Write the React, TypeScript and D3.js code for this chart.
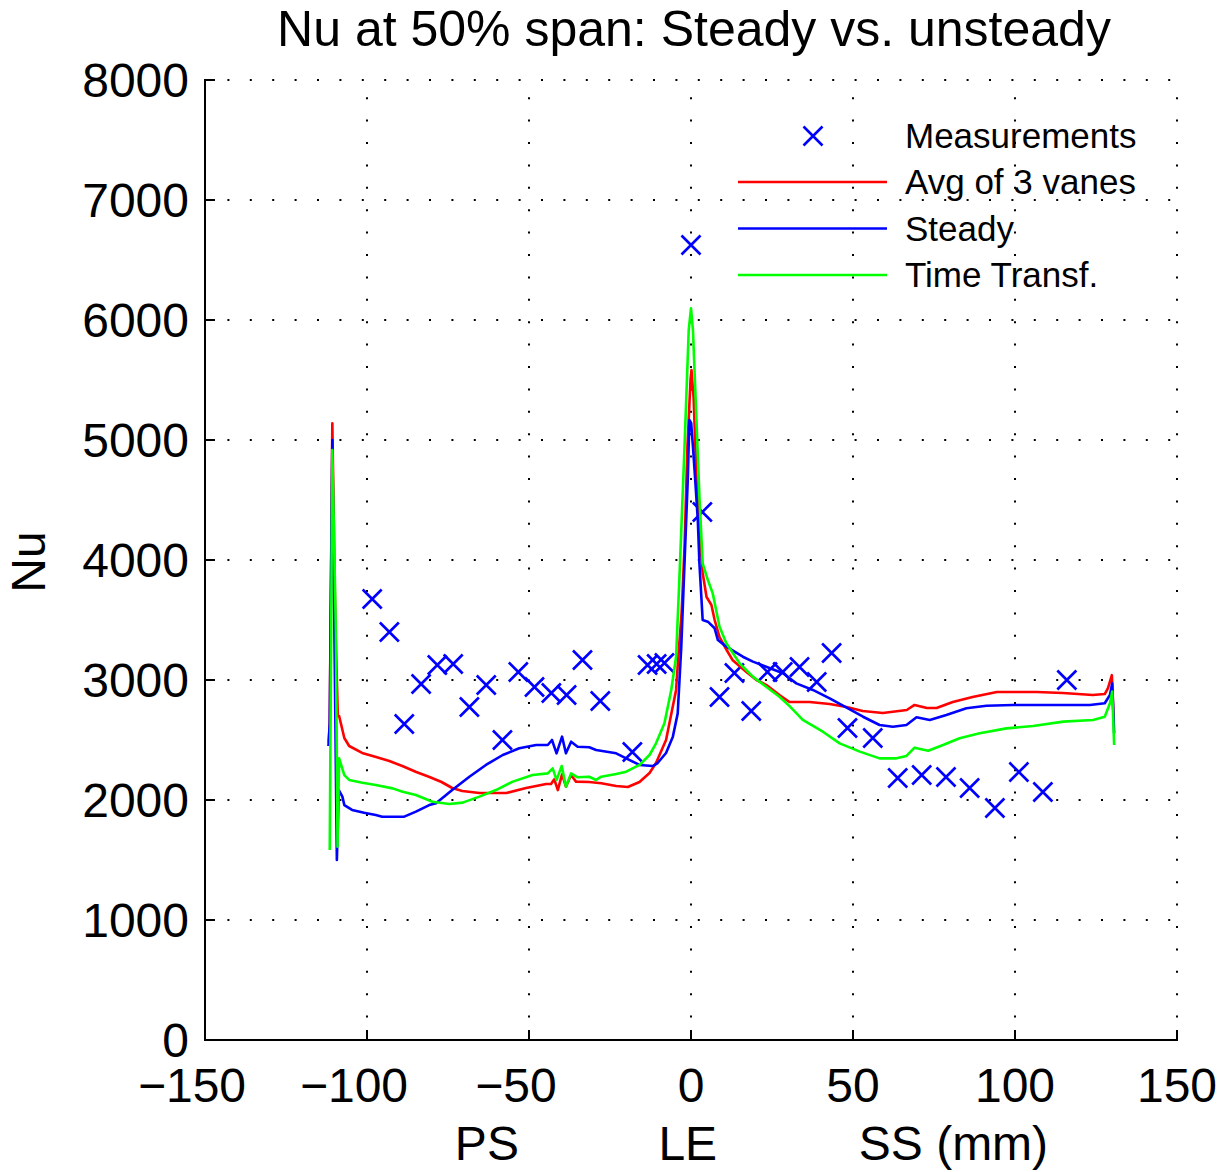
import React from "react";
import * as d3 from "d3";

// ---------- data ----------
const xTicks = [-150, -100, -50, 0, 50, 100, 150];
const yTicks = [0, 1000, 2000, 3000, 4000, 5000, 6000, 7000, 8000];
const legendLabels = ["Measurements", "Avg of 3 vanes", "Steady", "Time Transf."];
const xSubLabels = ["PS", "LE", "SS (mm)"];
const xSubLabelPos = [-63, -1, 81];

const measX = [-98.4, -93.1, -88.5, -83.3, -78.3, -73.4, -68.4, -63.2, -58.2, -53.3, -48.3, -43.1, -38.4, -33.5, -28.0, -18.1, -13.4, -10.6, -8.2, 0, 3.5, 8.8, 13.4, 18.6, 23.6, 28.3, 33.5, 38.8, 43.4, 48.3, 56.1, 63.8, 71.2, 78.7, 86.0, 93.8, 101.2, 108.6, 116.0];
const measY = [3675, 3400, 2633, 2967, 3125, 3133, 2775, 2958, 2500, 3067, 2942, 2892, 2875, 3167, 2825, 2400, 3125, 3133, 3142, 6625, 4400, 2858, 3058, 2742, 3067, 3067, 3108, 2983, 3225, 2600, 2517, 2183, 2208, 2192, 2100, 1933, 2233, 2067, 3000];

const avgX = [-111.8, -111.5, -110.7, -109.8, -109.0, -108.6, -107.0, -105.5, -101.5, -97.2, -93.1, -89.1, -84.8, -80.7, -77.0, -73.7, -70.6, -65.3, -57.0, -50.9, -44.7, -43.2, -42.2, -41.1, -39.8, -38.6, -37.0, -35.5, -31.4, -27.7, -23.1, -19.5, -15.9, -12.8, -10.8, -7.7, -4.6, -3.9, -2.9, -2.0, -1.1, -0.15, 0.15, 0.8, 1.7, 2.6, 3.6, 4.8, 6.3, 7.3, 8.8, 11.0, 12.8, 17.1, 20.2, 23.3, 27.3, 30.4, 33.5, 36.6, 42.8, 48.0, 53.0, 59.2, 66.6, 69.0, 72.8, 75.8, 80.8, 86.9, 94.4, 106.7, 114.8, 124.0, 127.7, 128.7, 129.9, 130.5];
const avgY = [2480, 2650, 5140, 3500, 2700, 2700, 2517, 2450, 2392, 2358, 2325, 2283, 2233, 2192, 2150, 2100, 2075, 2058, 2058, 2100, 2133, 2133, 2172, 2083, 2214, 2111, 2208, 2153, 2150, 2140, 2117, 2108, 2150, 2225, 2308, 2500, 2917, 3200, 3558, 4108, 4942, 5500, 5583, 5358, 4667, 4250, 3892, 3692, 3625, 3500, 3358, 3250, 3167, 3067, 3000, 2958, 2875, 2817, 2817, 2817, 2800, 2775, 2742, 2725, 2750, 2792, 2767, 2767, 2817, 2858, 2900, 2900, 2892, 2875, 2883, 2933, 3040, 2650];

const steadyX = [-111.9, -111.5, -110.7, -109.3, -108.7, -107.6, -107.0, -104.6, -100.9, -97.3, -95.3, -88.5, -84.9, -80.8, -78.7, -73.7, -68.4, -63.3, -58.1, -53.0, -47.8, -44.2, -42.9, -41.5, -39.8, -38.6, -37.0, -35.0, -31.4, -29.3, -23.1, -20.0, -15.9, -11.8, -10.3, -7.7, -5.6, -4.1, -3.0, -2.0, -1.0, -0.5, 0.05, 0.6, 1.3, 2.1, 2.6, 3.6, 5.2, 7.3, 8.3, 10.9, 16.0, 19.1, 23.2, 28.4, 32.5, 37.6, 42.8, 47.9, 53.1, 58.2, 62.3, 66.5, 69.6, 73.7, 78.8, 85.0, 91.2, 99.4, 109.7, 123.1, 127.7, 129.3, 130.0, 130.6];
const steadyY = [2450, 2640, 5000, 1500, 2083, 2028, 1958, 1917, 1894, 1875, 1861, 1861, 1903, 1958, 1972, 2083, 2194, 2292, 2375, 2431, 2458, 2458, 2500, 2389, 2528, 2389, 2486, 2444, 2439, 2417, 2389, 2347, 2292, 2283, 2308, 2392, 2528, 2722, 3278, 3975, 4667, 5167, 5140, 4944, 4667, 4333, 3972, 3500, 3486, 3431, 3333, 3278, 3194, 3153, 3111, 3056, 2972, 2917, 2847, 2772, 2694, 2625, 2611, 2625, 2689, 2667, 2708, 2764, 2786, 2792, 2792, 2792, 2806, 2875, 2972, 2556];

const timeX = [-111.5, -110.7, -109.6, -109.1, -108.6, -107.0, -105.5, -101.4, -97.3, -92.1, -89.0, -84.9, -79.8, -74.6, -70.5, -65.3, -60.2, -55.0, -48.9, -44.2, -42.7, -41.5, -39.9, -38.6, -37.0, -35.0, -31.4, -29.3, -27.7, -23.1, -20.0, -15.9, -12.8, -10.8, -8.2, -6.1, -4.6, -3.6, -2.0, -0.7, 0, 0.6, 1.6, 2.6, 3.6, 5.2, 6.7, 8.8, 10.9, 15.0, 19.1, 23.2, 27.3, 30.5, 34.5, 40.7, 45.9, 52.1, 58.2, 63.4, 66.5, 69.0, 73.2, 77.8, 82.9, 89.1, 97.4, 105.6, 114.9, 124.1, 127.7, 129.3, 130.0, 130.6];
const timeY = [1583, 4917, 3390, 1611, 2347, 2208, 2167, 2144, 2125, 2097, 2069, 2042, 1986, 1967, 1978, 2028, 2083, 2153, 2208, 2222, 2264, 2167, 2283, 2111, 2222, 2189, 2194, 2167, 2194, 2217, 2236, 2292, 2375, 2472, 2639, 2917, 3194, 3833, 4944, 5917, 6097, 5917, 5222, 4528, 3972, 3833, 3722, 3444, 3306, 3139, 3028, 2944, 2861, 2780, 2667, 2569, 2472, 2403, 2347, 2347, 2367, 2436, 2411, 2458, 2514, 2556, 2597, 2617, 2653, 2667, 2694, 2806, 2903, 2458];

// ---------- layout ----------
const W = 1231;
const H = 1172;
const L = 205, R = 1177, T = 80, B = 1040;
const FONT = "'Liberation Sans', Arial, Helvetica, sans-serif";

export default function App() {
  const x = d3.scaleLinear().domain([-150, 150]).range([L, R]);
  const y = d3.scaleLinear().domain([0, 8000]).range([B, T]);

  const mk = (xs: number[], ys: number[]) =>
    d3.line<number>().x((_, i) => x(xs[i])).y((_, i) => y(ys[i]))(xs) || "";

  const series = [
    { xs: avgX, ys: avgY, color: "#ff0000" },
    { xs: steadyX, ys: steadyY, color: "#0000ff" },
    { xs: timeX, ys: timeY, color: "#00ff00" },
  ];

  const cross = (cx: number, cy: number, s: number, key: any) => (
    <path
      key={key}
      d={`M${cx - s},${cy - s}L${cx + s},${cy + s}M${cx - s},${cy + s}L${cx + s},${cy - s}`}
      stroke="#0000ff"
      strokeWidth={2.6}
      fill="none"
    />
  );

  const legX0 = 738, legX1 = 887, legTextX = 905;
  const legY = [136, 182, 228.5, 275];

  return (
    <svg width={W} height={H} style={{ position: "absolute", left: 0, top: 0, background: "#fff" }} fontFamily={FONT}>
      <rect x={0} y={0} width={W} height={H} fill="#fff" />
      {/* grid */}
      <g stroke="#000" strokeWidth={2} strokeDasharray="2 20.4" fill="none">
        {xTicks.filter((t) => t !== -150).map((t) => (
          <line key={"gx" + t} x1={x(t)} x2={x(t)} y1={B} y2={T} />
        ))}
        {yTicks.filter((t) => t !== 0).map((t) => (
          <line key={"gy" + t} x1={L} x2={R} y1={y(t)} y2={y(t)} />
        ))}
      </g>
      {/* axes */}
      <g stroke="#000" strokeWidth={2} fill="none">
        <line x1={L} x2={L} y1={T - 1} y2={B + 1} />
        <line x1={L - 1} x2={R + 1} y1={B} y2={B} />
        {xTicks.map((t) => (
          <line key={"tx" + t} x1={x(t)} x2={x(t)} y1={B} y2={B - 10} />
        ))}
        {yTicks.map((t) => (
          <line key={"ty" + t} x1={L} x2={L + 10} y1={y(t)} y2={y(t)} />
        ))}
      </g>
      {/* tick labels */}
      <g fontSize={48} fill="#000">
        {yTicks.map((t) => (
          <text key={"ly" + t} x={L - 16} y={y(t) + 17} textAnchor="end">
            {t}
          </text>
        ))}
        {xTicks.map((t) => (
          <text key={"lx" + t} x={x(t) + (t < 0 ? -13 : 0)} y={1102} textAnchor="middle">
            {t < 0 ? "\u2212" + Math.abs(t) : String(t)}
          </text>
        ))}
        {xSubLabels.map((s, i) => (
          <text key={"sl" + i} x={x(xSubLabelPos[i])} y={1160} textAnchor="middle">
            {s}
          </text>
        ))}
        <text transform={`translate(45,562) rotate(-90)`} textAnchor="middle">
          Nu
        </text>
      </g>
      {/* title */}
      <text x={694} y={46} textAnchor="middle" fontSize={50} fill="#000">
        Nu at 50% span: Steady vs. unsteady
      </text>
      {/* data */}
      <g>{measX.map((v, i) => cross(x(v), y(measY[i]), 9.5, "m" + i))}</g>
      {series.map((s, i) => (
        <path key={"s" + i} d={mk(s.xs, s.ys)} stroke={s.color} strokeWidth={2.6} fill="none" strokeLinejoin="round" />
      ))}
      {/* legend */}
      <g>
        {cross(813, legY[0], 9.5, "legm")}
        {series.map((s, i) => (
          <line key={"ll" + i} x1={legX0} x2={legX1} y1={legY[i + 1]} y2={legY[i + 1]} stroke={s.color} strokeWidth={2.6} />
        ))}
        {legendLabels.map((s, i) => (
          <text key={"lt" + i} x={legTextX} y={legY[i] + 12} fontSize={35} fill="#000">
            {s}
          </text>
        ))}
      </g>
    </svg>
  );
}
